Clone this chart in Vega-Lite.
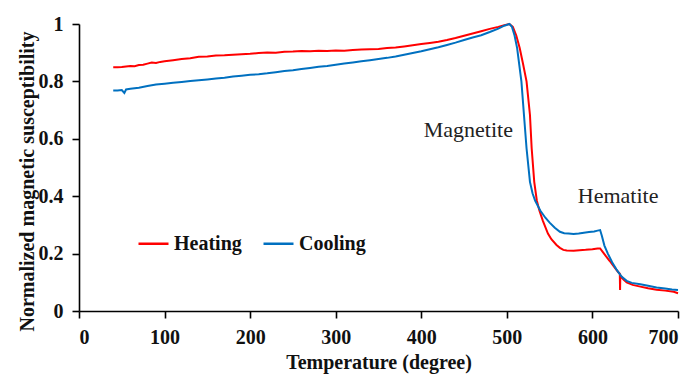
{
  "$schema": "https://vega.github.io/schema/vega-lite/v6.json",
  "width": 599,
  "height": 287,
  "autosize": {"type": "none"},
  "padding": {"left": 79, "top": 24, "right": 16, "bottom": 63},
  "background": "white",
  "config": {
    "view": {"stroke": null},
    "font": "Liberation Serif",
    "axis": {
      "grid": false,
      "domainColor": "#000",
      "domainWidth": 1.6,
      "tickColor": "#000",
      "tickWidth": 1.6,
      "tickSize": 7,
      "labelFont": "Liberation Serif",
      "labelFontSize": 20,
      "labelFontWeight": "bold",
      "labelColor": "#111",
      "titleFont": "Liberation Serif",
      "titleFontSize": 20,
      "titleFontWeight": "bold",
      "titleColor": "#111"
    },
    "legend": {
      "orient": "none",
      "legendX": 58,
      "legendY": 203,
      "direction": "horizontal",
      "symbolType": "stroke",
      "symbolSize": 900,
      "symbolStrokeWidth": 2.5,
      "labelFont": "Liberation Serif",
      "labelFontSize": 20,
      "labelFontWeight": "bold",
      "labelColor": "#111",
      "labelOffset": 4,
      "columnPadding": 16,
      "padding": 0
    }
  },
  "datasets": {
    "curves": [
      {"s": "Heating", "t": 40, "v": 0.849},
      {"s": "Heating", "t": 45, "v": 0.849},
      {"s": "Heating", "t": 50, "v": 0.85},
      {"s": "Heating", "t": 55, "v": 0.852},
      {"s": "Heating", "t": 60, "v": 0.854},
      {"s": "Heating", "t": 65, "v": 0.853},
      {"s": "Heating", "t": 70, "v": 0.857},
      {"s": "Heating", "t": 75, "v": 0.858},
      {"s": "Heating", "t": 80, "v": 0.862},
      {"s": "Heating", "t": 85, "v": 0.866},
      {"s": "Heating", "t": 90, "v": 0.864},
      {"s": "Heating", "t": 95, "v": 0.868},
      {"s": "Heating", "t": 100, "v": 0.87},
      {"s": "Heating", "t": 110, "v": 0.874},
      {"s": "Heating", "t": 120, "v": 0.878},
      {"s": "Heating", "t": 130, "v": 0.881},
      {"s": "Heating", "t": 140, "v": 0.886},
      {"s": "Heating", "t": 150, "v": 0.887},
      {"s": "Heating", "t": 160, "v": 0.89},
      {"s": "Heating", "t": 170, "v": 0.891},
      {"s": "Heating", "t": 180, "v": 0.893},
      {"s": "Heating", "t": 190, "v": 0.895},
      {"s": "Heating", "t": 200, "v": 0.896},
      {"s": "Heating", "t": 210, "v": 0.899},
      {"s": "Heating", "t": 220, "v": 0.901},
      {"s": "Heating", "t": 230, "v": 0.9},
      {"s": "Heating", "t": 240, "v": 0.903},
      {"s": "Heating", "t": 250, "v": 0.904},
      {"s": "Heating", "t": 260, "v": 0.906},
      {"s": "Heating", "t": 270, "v": 0.905},
      {"s": "Heating", "t": 280, "v": 0.907},
      {"s": "Heating", "t": 290, "v": 0.906},
      {"s": "Heating", "t": 300, "v": 0.908},
      {"s": "Heating", "t": 310, "v": 0.907},
      {"s": "Heating", "t": 320, "v": 0.909},
      {"s": "Heating", "t": 330, "v": 0.911},
      {"s": "Heating", "t": 340, "v": 0.912},
      {"s": "Heating", "t": 350, "v": 0.913},
      {"s": "Heating", "t": 360, "v": 0.916},
      {"s": "Heating", "t": 370, "v": 0.918},
      {"s": "Heating", "t": 380, "v": 0.922},
      {"s": "Heating", "t": 390, "v": 0.926},
      {"s": "Heating", "t": 400, "v": 0.93},
      {"s": "Heating", "t": 410, "v": 0.934},
      {"s": "Heating", "t": 420, "v": 0.938},
      {"s": "Heating", "t": 430, "v": 0.944},
      {"s": "Heating", "t": 440, "v": 0.951},
      {"s": "Heating", "t": 450, "v": 0.959},
      {"s": "Heating", "t": 460, "v": 0.967},
      {"s": "Heating", "t": 470, "v": 0.975},
      {"s": "Heating", "t": 480, "v": 0.983},
      {"s": "Heating", "t": 490, "v": 0.99},
      {"s": "Heating", "t": 497, "v": 0.996},
      {"s": "Heating", "t": 503, "v": 1.0},
      {"s": "Heating", "t": 507, "v": 0.99},
      {"s": "Heating", "t": 511, "v": 0.96},
      {"s": "Heating", "t": 515, "v": 0.916},
      {"s": "Heating", "t": 519, "v": 0.86},
      {"s": "Heating", "t": 523, "v": 0.8},
      {"s": "Heating", "t": 527, "v": 0.683},
      {"s": "Heating", "t": 529, "v": 0.567},
      {"s": "Heating", "t": 532, "v": 0.45},
      {"s": "Heating", "t": 535, "v": 0.385},
      {"s": "Heating", "t": 538, "v": 0.35},
      {"s": "Heating", "t": 542, "v": 0.315},
      {"s": "Heating", "t": 548, "v": 0.27},
      {"s": "Heating", "t": 552, "v": 0.25},
      {"s": "Heating", "t": 558, "v": 0.23},
      {"s": "Heating", "t": 562, "v": 0.22},
      {"s": "Heating", "t": 566, "v": 0.213},
      {"s": "Heating", "t": 570, "v": 0.211},
      {"s": "Heating", "t": 578, "v": 0.21},
      {"s": "Heating", "t": 585, "v": 0.212},
      {"s": "Heating", "t": 592, "v": 0.213},
      {"s": "Heating", "t": 600, "v": 0.215},
      {"s": "Heating", "t": 606, "v": 0.218},
      {"s": "Heating", "t": 609, "v": 0.218},
      {"s": "Heating", "t": 612, "v": 0.206},
      {"s": "Heating", "t": 616, "v": 0.19},
      {"s": "Heating", "t": 620, "v": 0.175},
      {"s": "Heating", "t": 625, "v": 0.155},
      {"s": "Heating", "t": 630, "v": 0.136},
      {"s": "Heating", "t": 632, "v": 0.13},
      {"s": "Heating", "t": 632.3, "v": 0.073},
      {"s": "Heating", "t": 632.6, "v": 0.125},
      {"s": "Heating", "t": 636, "v": 0.11},
      {"s": "Heating", "t": 640, "v": 0.1},
      {"s": "Heating", "t": 647, "v": 0.091},
      {"s": "Heating", "t": 656, "v": 0.085},
      {"s": "Heating", "t": 665, "v": 0.079},
      {"s": "Heating", "t": 675, "v": 0.074},
      {"s": "Heating", "t": 685, "v": 0.071},
      {"s": "Heating", "t": 695, "v": 0.067},
      {"s": "Heating", "t": 700, "v": 0.062},
      {"s": "Cooling", "t": 40, "v": 0.768},
      {"s": "Cooling", "t": 45, "v": 0.768},
      {"s": "Cooling", "t": 50, "v": 0.77},
      {"s": "Cooling", "t": 53, "v": 0.76},
      {"s": "Cooling", "t": 55, "v": 0.772},
      {"s": "Cooling", "t": 60, "v": 0.774},
      {"s": "Cooling", "t": 70, "v": 0.778},
      {"s": "Cooling", "t": 80, "v": 0.784},
      {"s": "Cooling", "t": 90, "v": 0.789},
      {"s": "Cooling", "t": 100, "v": 0.792},
      {"s": "Cooling", "t": 110, "v": 0.795},
      {"s": "Cooling", "t": 120, "v": 0.798},
      {"s": "Cooling", "t": 130, "v": 0.801},
      {"s": "Cooling", "t": 140, "v": 0.804},
      {"s": "Cooling", "t": 150, "v": 0.807},
      {"s": "Cooling", "t": 160, "v": 0.81},
      {"s": "Cooling", "t": 170, "v": 0.813},
      {"s": "Cooling", "t": 180, "v": 0.817},
      {"s": "Cooling", "t": 190, "v": 0.82},
      {"s": "Cooling", "t": 200, "v": 0.823},
      {"s": "Cooling", "t": 210, "v": 0.825},
      {"s": "Cooling", "t": 220, "v": 0.828},
      {"s": "Cooling", "t": 230, "v": 0.832},
      {"s": "Cooling", "t": 240, "v": 0.836},
      {"s": "Cooling", "t": 250, "v": 0.839},
      {"s": "Cooling", "t": 260, "v": 0.843},
      {"s": "Cooling", "t": 270, "v": 0.847},
      {"s": "Cooling", "t": 280, "v": 0.851},
      {"s": "Cooling", "t": 290, "v": 0.854},
      {"s": "Cooling", "t": 300, "v": 0.858},
      {"s": "Cooling", "t": 310, "v": 0.862},
      {"s": "Cooling", "t": 320, "v": 0.866},
      {"s": "Cooling", "t": 330, "v": 0.87},
      {"s": "Cooling", "t": 340, "v": 0.874},
      {"s": "Cooling", "t": 350, "v": 0.878},
      {"s": "Cooling", "t": 360, "v": 0.882},
      {"s": "Cooling", "t": 370, "v": 0.887},
      {"s": "Cooling", "t": 380, "v": 0.893},
      {"s": "Cooling", "t": 390, "v": 0.899},
      {"s": "Cooling", "t": 400, "v": 0.905},
      {"s": "Cooling", "t": 410, "v": 0.912},
      {"s": "Cooling", "t": 420, "v": 0.919},
      {"s": "Cooling", "t": 430, "v": 0.927},
      {"s": "Cooling", "t": 440, "v": 0.935},
      {"s": "Cooling", "t": 450, "v": 0.944},
      {"s": "Cooling", "t": 460, "v": 0.953},
      {"s": "Cooling", "t": 470, "v": 0.961},
      {"s": "Cooling", "t": 480, "v": 0.972},
      {"s": "Cooling", "t": 490, "v": 0.984},
      {"s": "Cooling", "t": 497, "v": 0.994},
      {"s": "Cooling", "t": 503, "v": 1.0},
      {"s": "Cooling", "t": 506, "v": 0.99},
      {"s": "Cooling", "t": 509, "v": 0.96},
      {"s": "Cooling", "t": 512, "v": 0.916},
      {"s": "Cooling", "t": 517, "v": 0.8},
      {"s": "Cooling", "t": 520, "v": 0.683},
      {"s": "Cooling", "t": 523, "v": 0.567},
      {"s": "Cooling", "t": 527, "v": 0.45},
      {"s": "Cooling", "t": 530, "v": 0.41},
      {"s": "Cooling", "t": 533, "v": 0.385},
      {"s": "Cooling", "t": 539, "v": 0.35},
      {"s": "Cooling", "t": 545, "v": 0.325},
      {"s": "Cooling", "t": 550, "v": 0.308},
      {"s": "Cooling", "t": 556, "v": 0.29},
      {"s": "Cooling", "t": 562, "v": 0.276},
      {"s": "Cooling", "t": 567, "v": 0.271},
      {"s": "Cooling", "t": 572, "v": 0.27},
      {"s": "Cooling", "t": 578, "v": 0.268},
      {"s": "Cooling", "t": 584, "v": 0.27},
      {"s": "Cooling", "t": 590, "v": 0.273},
      {"s": "Cooling", "t": 596, "v": 0.275},
      {"s": "Cooling", "t": 602, "v": 0.277},
      {"s": "Cooling", "t": 606, "v": 0.28},
      {"s": "Cooling", "t": 609, "v": 0.282},
      {"s": "Cooling", "t": 611, "v": 0.262},
      {"s": "Cooling", "t": 614, "v": 0.228},
      {"s": "Cooling", "t": 618, "v": 0.2},
      {"s": "Cooling", "t": 623, "v": 0.17},
      {"s": "Cooling", "t": 628, "v": 0.145},
      {"s": "Cooling", "t": 634, "v": 0.12},
      {"s": "Cooling", "t": 640, "v": 0.105},
      {"s": "Cooling", "t": 646, "v": 0.098},
      {"s": "Cooling", "t": 656, "v": 0.093},
      {"s": "Cooling", "t": 665, "v": 0.088},
      {"s": "Cooling", "t": 675, "v": 0.082},
      {"s": "Cooling", "t": 685, "v": 0.078},
      {"s": "Cooling", "t": 693, "v": 0.075},
      {"s": "Cooling", "t": 700, "v": 0.073}
    ],
    "notes": [
      {"label": "Magnetite", "t": 455, "v": 0.606},
      {"label": "Hematite", "t": 630, "v": 0.376}
    ]
  },
  "layer": [
    {
      "data": {"name": "curves"},
      "mark": {"type": "line", "strokeWidth": 2, "interpolate": "linear"},
      "encoding": {
        "x": {
          "field": "t",
          "type": "quantitative",
          "scale": {"domain": [0, 700], "nice": false},
          "axis": {
            "values": [0, 100, 200, 300, 400, 500, 600, 700],
            "title": "Temperature (degree)",
            "labelPadding": 9,
            "titleY": 57,
            "titleBaseline": "alphabetic"
          }
        },
        "y": {
          "field": "v",
          "type": "quantitative",
          "scale": {"domain": [0, 1], "nice": false},
          "axis": {
            "values": [0, 0.2, 0.4, 0.6, 0.8, 1],
            "format": "~g",
            "title": "Normalized magnetic susceptibility",
            "labelPadding": 9,
            "titleX": -46,
            "titleY": 157,
            "titleBaseline": "alphabetic",
            "titleAlign": "center",
            "titleAngle": -90
          }
        },
        "color": {
          "field": "s",
          "type": "nominal",
          "scale": {"domain": ["Heating", "Cooling"], "range": ["#FF0000", "#0070C0"]},
          "legend": {"title": null}
        }
      }
    },
    {
      "data": {"name": "notes"},
      "mark": {"type": "text", "font": "Liberation Serif", "fontSize": 22, "color": "#222", "align": "center", "baseline": "alphabetic"},
      "encoding": {
        "x": {"field": "t", "type": "quantitative"},
        "y": {"field": "v", "type": "quantitative"},
        "text": {"field": "label"}
      }
    }
  ]
}
